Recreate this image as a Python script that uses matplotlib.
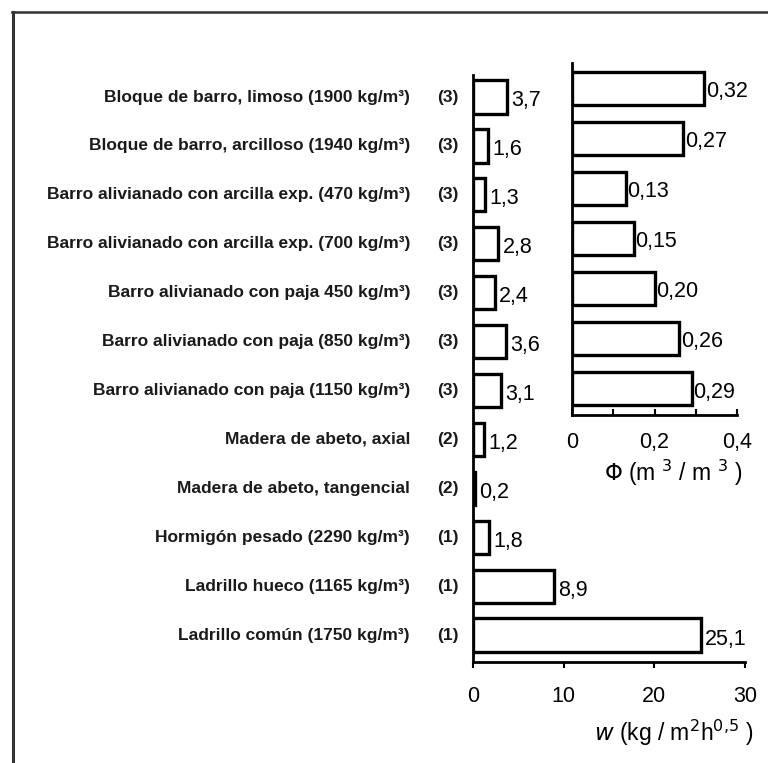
import matplotlib
matplotlib.use("Agg")
import matplotlib.pyplot as plt
from matplotlib.transforms import blended_transform_factory
from matplotlib import font_manager

names = {f.name for f in font_manager.fontManager.ttflist}
narrow = "Liberation Sans Narrow" if "Liberation Sans Narrow" in names else "Liberation Sans"

materials = [
    "Bloque de barro, limoso (1900 kg/m³)",
    "Bloque de barro, arcilloso (1940 kg/m³)",
    "Barro alivianado con arcilla exp. (470 kg/m³)",
    "Barro alivianado con arcilla exp. (700 kg/m³)",
    "Barro alivianado con paja 450 kg/m³)",
    "Barro alivianado con paja (850 kg/m³)",
    "Barro alivianado con paja (1150 kg/m³)",
    "Madera de abeto, axial",
    "Madera de abeto, tangencial",
    "Hormigón pesado (2290 kg/m³)",
    "Ladrillo hueco (1165 kg/m³)",
    "Ladrillo común (1750 kg/m³)",
]
sources = ["(3)", "(3)", "(3)", "(3)", "(3)", "(3)", "(3)", "(2)", "(2)", "(1)", "(1)", "(1)"]
w_values = [3.7, 1.6, 1.3, 2.8, 2.4, 3.6, 3.1, 1.2, 0.2, 1.8, 8.9, 25.1]
w_labels = ["3,7", "1,6", "1,3", "2,8", "2,4", "3,6", "3,1", "1,2", "0,2", "1,8", "8,9", "25,1"]
phi_values = [0.32, 0.27, 0.13, 0.15, 0.20, 0.26, 0.29]
phi_labels = ["0,32", "0,27", "0,13", "0,15", "0,20", "0,26", "0,29"]
w_ticks = [0, 10, 20, 30]
w_ticklabels = ["0", "10", "20", "30"]
phi_ticks = [0, 0.2, 0.4]
phi_ticklabels = ["0", "0,2", "0,4"]

W, H = 768, 763
fig = plt.figure(figsize=(W / 100, H / 100), dpi=100)
fig.patch.set_facecolor("white")

def fx(px):
    return px / W

def fy(py):
    return 1 - py / H

tick_font = dict(family="Liberation Sans", size=15.5)
val_font = dict(family="Liberation Sans", size=15.5)

# main axes
ax = fig.add_axes([fx(473), fy(662), fx(745) - fx(473), fy(75) - fy(662)])
ypos = list(range(len(materials)))
ax.barh(ypos, w_values, height=0.68, color="white", edgecolor="black", linewidth=2.4)
ax.set_xlim(0, 30)
ax.set_ylim(11.55, -0.45)
for s in ["top", "right"]:
    ax.spines[s].set_visible(False)
ax.spines["left"].set_linewidth(2.0)
ax.spines["bottom"].set_linewidth(2.0)
ax.set_yticks([])
ax.set_xticks(w_ticks)
ax.set_xticklabels(w_ticklabels, fontdict=tick_font)
ax.tick_params(axis="x", direction="out", length=4, width=1.5, pad=13)
ax.patch.set_alpha(0)
for y, v, lab in zip(ypos, w_values, w_labels):
    ax.text(v + 0.5, y + 0.08, lab, va="center", ha="left", **val_font)

tr = blended_transform_factory(fig.transFigure, ax.transData)
for y, name, src in zip(ypos, materials, sources):
    ax.text(fx(410), y, name, transform=tr, ha="right", va="center",
            family=narrow, weight="bold", size=12.5, color="#1a1a1a")
    ax.text(fx(448), y, src, transform=tr, ha="center", va="center",
            family=narrow, weight="bold", size=12.5, color="#1a1a1a")

fig.text(fx(674), fy(733), r"$\mathit{w}$ (kg / m$^{2}$h$^{0{,}5}$ )", ha="center", va="center",
         family="Liberation Sans", size=16.5)

# inset axes
ax2 = fig.add_axes([fx(572), fy(415), fx(737) - fx(572), fy(63) - fy(415)])
ypos2 = list(range(len(phi_values)))
ax2.barh(ypos2, phi_values, height=0.66, color="white", edgecolor="black", linewidth=2.4)
ax2.set_xlim(0, 0.4)
ax2.set_ylim(6.54, -0.5)
for s in ["top", "right"]:
    ax2.spines[s].set_visible(False)
ax2.spines["left"].set_linewidth(2.0)
ax2.spines["bottom"].set_linewidth(2.0)
ax2.set_yticks([])
ax2.set_xticks(phi_ticks)
ax2.set_xticklabels(phi_ticklabels, fontdict=tick_font)
ax2.set_xticks([0.1, 0.3], minor=True)
ax2.tick_params(axis="x", which="both", direction="in", length=4, width=1.5, pad=12)
ax2.patch.set_alpha(0)
for y, v, lab in zip(ypos2, phi_values, phi_labels):
    ax2.text(v + 0.004, y + 0.08, lab, va="center", ha="left", **val_font)

fig.text(fx(673), fy(473), r"$\Phi$ (m $^{3}$ / m $^{3}$ )", ha="center", va="center",
         family="Liberation Sans", size=16.5)

# frame lines
fig.add_artist(plt.Line2D([fx(13), fx(13)], [fy(12), 0], transform=fig.transFigure,
                          color="#333333", linewidth=2.2))
fig.add_artist(plt.Line2D([fx(12), 1], [fy(12), fy(12)], transform=fig.transFigure,
                          color="#333333", linewidth=1.8))

fig.savefig("out.png", dpi=100, facecolor="white")
